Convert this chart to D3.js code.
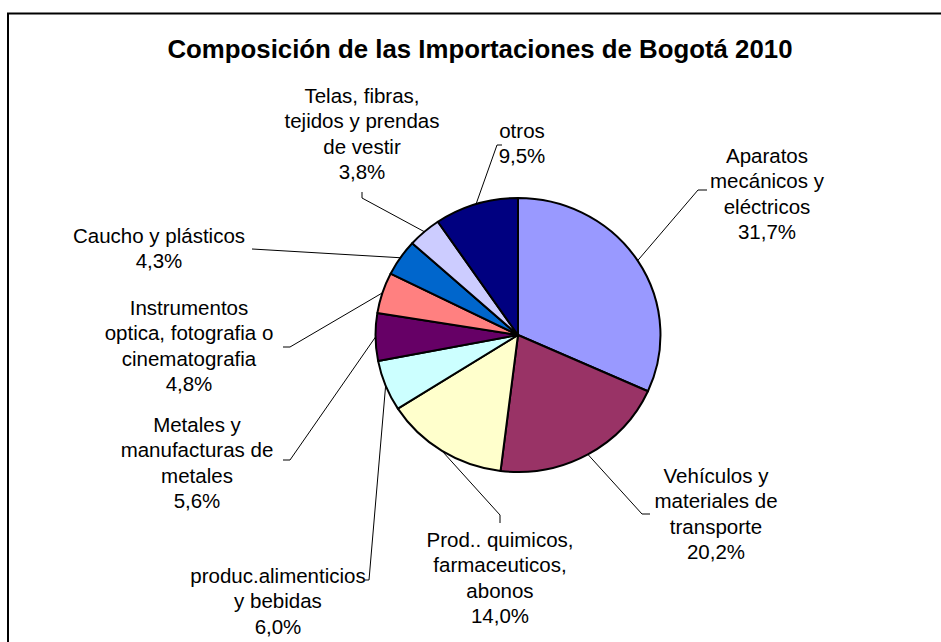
<!DOCTYPE html>
<html>
<head>
<meta charset="utf-8">
<script src="https://cdn.jsdelivr.net/npm/d3@7"></script>
<style>
  body { margin: 0; background: #fff; }
  svg { display: block; font-family: "Liberation Sans", Arial, sans-serif; }
</style>
</head>
<body>
<div id="chart"></div>
<script>
// data
var categories = [
  "Aparatos mecánicos y eléctricos",
  "Vehículos y materiales de transporte",
  "Prod.. quimicos, farmaceuticos, abonos",
  "produc.alimenticios y bebidas",
  "Metales y manufacturas de metales",
  "Instrumentos optica, fotografia o cinematografia",
  "Caucho y plásticos",
  "Telas, fibras, tejidos y prendas de vestir",
  "otros"
];
var shares = [31.7, 20.2, 14.0, 6.0, 5.6, 4.8, 4.3, 3.8, 9.5];
var labelLines = [
  ["Aparatos", "mecánicos y", "eléctricos"],
  ["Vehículos y", "materiales de", "transporte"],
  ["Prod.. quimicos,", "farmaceuticos,", "abonos"],
  ["produc.alimenticios", "y bebidas"],
  ["Metales y", "manufacturas de", "metales"],
  ["Instrumentos", "optica, fotografia o", "cinematografia"],
  ["Caucho y plásticos"],
  ["Telas, fibras,", "tejidos y prendas", "de vestir"],
  ["otros"]
];
var colors = ["#9999FF", "#993366", "#FFFFCC", "#CCFFFF", "#660066",
              "#FF8080", "#0066CC", "#CCCCFF", "#000080"];

// label placement (like the hand-placed labels of the original)
var labelPos = [
  {x: 767, y: 163, leader: [[698, 190], [707, 190]]},
  {x: 716, y: 483, leader: [[642, 514], [650, 514]]},
  {x: 500, y: 547, leader: [[500, 515], [500, 523]]},
  {x: 278, y: 583, leader: [[369, 580], [365, 580]]},
  {x: 197, y: 432, leader: [[290, 460], [283, 460]]},
  {x: 189, y: 315, leader: [[290, 347], [283, 347]]},
  {x: 159, y: 243, leader: [[252, 249]]},
  {x: 362, y: 103, leader: [[362, 198], [362, 192]]},
  {x: 522, y: 138, leader: [[497, 145], [502, 145]]}
];

var width = 941, height = 642;
var cx = 518, cy = 335, r = 137, sx = 1.04;
var lineH = 25.3;

var svg = d3.select("#chart").append("svg")
    .attr("width", width)
    .attr("height", height);

// chart frame (cut off at right and bottom)
svg.append("rect")
    .attr("x", 8).attr("y", 13.5)
    .attr("width", 960).attr("height", 660)
    .attr("fill", "#fff")
    .attr("stroke", "#000")
    .attr("stroke-width", 2);

svg.append("text")
    .attr("x", 480).attr("y", 58)
    .attr("text-anchor", "middle")
    .attr("font-weight", "bold")
    .attr("font-size", "25.8px")
    .text("Composición de las Importaciones de Bogotá 2010");

var data = categories.map((c, i) => ({name: c, value: shares[i], i: i}));

var pie = d3.pie().sort(null).value(d => d.value);
var arc = d3.arc().innerRadius(0).outerRadius(r);
var arcs = pie(data);

var g = svg.append("g")
    .attr("transform", `translate(${cx},${cy}) scale(${sx},1)`);

g.selectAll("path")
  .data(arcs)
  .join("path")
    .attr("d", arc)
    .attr("fill", d => colors[d.data.i])
    .attr("stroke", "#000")
    .attr("stroke-width", 2)
    .attr("stroke-linejoin", "round")
    .attr("vector-effect", "non-scaling-stroke");

// leader lines from the middle of each slice edge
var line = d3.line();
svg.append("g").selectAll("path")
  .data(arcs)
  .join("path")
    .attr("fill", "none")
    .attr("stroke", "#000")
    .attr("stroke-width", 1)
    .attr("d", d => {
      var a = (d.startAngle + d.endAngle) / 2;
      var p0 = [cx + r * sx * Math.sin(a), cy - r * Math.cos(a)];
      return line([p0].concat(labelPos[d.data.i].leader));
    });

var fmt = v => v.toFixed(1).replace(".", ",") + "%";

var labels = svg.append("g")
    .attr("font-size", "20.5px")
    .attr("fill", "#000")
    .attr("text-anchor", "middle");

labels.selectAll("text")
  .data(data)
  .join("text")
    .attr("x", d => labelPos[d.i].x)
    .attr("y", d => labelPos[d.i].y)
    .call(t => t.selectAll("tspan")
      .data(d => labelLines[d.i].concat([fmt(d.value)]).map(s => ({s: s, x: labelPos[d.i].x})))
      .join("tspan")
        .attr("x", d => d.x)
        .attr("dy", (d, k) => k ? lineH : 0)
        .text(d => d.s));
</script>
</body>
</html>
